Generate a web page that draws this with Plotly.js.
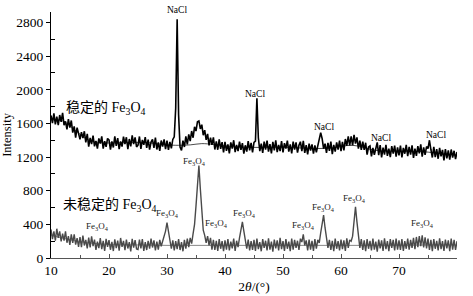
<!DOCTYPE html>
<html>
<head>
<meta charset="utf-8">
<script src="https://cdn.plot.ly/plotly-3.0.1.min.js"></script>
<style>html,body{margin:0;padding:0;background:#fff}#chart{width:473px;height:296px}</style>
</head>
<body>
<div id="chart"></div>
<script>
// XRD scan: 2θ from 10° to 80°, step 0.25°
const scanStart = 10;
const scanStep = 0.25;

// 稳定的 Fe3O4 (stable), intensity
const stableIntensity = [
  1695,1605,1720,1590,1680,1580,1700,1620,1725,1580,1625,1530,1650,1550,1635,1490,1565,1430,1550,1470,
  1410,1497,1425,1507,1375,1477,1325,1427,1355,1456,1327,1393,1300,1422,1360,1447,1300,1389,1322,1421,
  1405,1290,1387,1314,1446,1333,1425,1295,1385,1325,1442,1354,1436,1293,1415,1327,1459,1355,1435,1320,
  1343,1445,1297,1404,1346,1438,1310,1407,1290,1378,1411,1309,1432,1290,1374,1273,1397,1326,1410,1295,
  1395,1285,1380,1303,1410,1440,1780,2840,1700,1320,1280,1395,1320,1445,1350,1470,1390,1510,1430,1560,
  1510,1620,1630,1535,1585,1460,1520,1405,1475,1340,1430,1345,1435,1290,1388,1287,1411,1297,1378,1255,
  1380,1275,1350,1245,1375,1300,1400,1260,1345,1270,1385,1285,1365,1240,1340,1265,1390,1280,1370,1255,
  1375,1390,1900,1430,1270,1360,1250,1385,1290,1395,1265,1355,1245,1380,1280,1400,1260,1345,1270,1390,
  1255,1365,1300,1395,1265,1352,1244,1385,1290,1374,1252,1340,1383,1270,1392,1250,1343,1231,1360,1278,
  1350,1240,1340,1255,1330,1380,1490,1420,1300,1360,1250,1370,1275,1385,1235,1345,1265,1375,1290,1395,
  1270,1380,1280,1415,1335,1445,1340,1447,1338,1465,1360,1435,1300,1395,1285,1385,1285,1370,1230,1320,
  1333,1208,1308,1228,1323,1375,1222,1342,1197,1312,1230,1345,1215,1300,1200,1330,1240,1335,1205,1315,
  1220,1335,1195,1310,1240,1345,1210,1320,1230,1340,1190,1300,1215,1330,1245,1350,1205,1315,1225,1325,
  1300,1400,1290,1195,1320,1200,1295,1180,1310,1210,1285,1160,1295,1185,1280,1170,1290,1195,1275,1175,1260
];

// 未稳定的 Fe3O4 (unstable), intensity
const unstableIntensity = [
  340,225,318,206,348,240,316,197,291,206,316,181,260,155,280,180,280,160,236,132,
  248,130,267,149,216,114,242,125,258,141,219,97,195,118,236,105,204,83,227,131,
  213,98,193,83,223,118,208,88,238,133,203,93,218,113,188,78,228,123,213,108,
  100,220,115,225,85,190,95,205,110,230,125,210,90,195,100,215,140,200,230,320,
  420,310,195,110,210,90,200,105,225,95,190,80,215,110,230,130,240,170,290,400,
  620,930,1100,820,500,330,270,180,260,150,240,100,215,95,205,85,225,110,200,80,
  210,100,225,90,195,115,230,85,205,130,240,330,430,320,210,110,220,90,200,95,
  215,85,230,105,190,80,225,120,205,90,235,100,195,75,220,115,210,90,240,105,
  200,85,225,110,195,80,230,100,215,120,205,95,230,190,280,150,210,90,220,100,
  205,85,225,110,215,180,300,420,510,360,230,120,215,95,205,80,230,110,200,90,
  220,105,210,85,235,120,215,200,260,400,610,430,250,120,225,95,210,80,225,110,
  205,90,230,100,195,75,220,115,210,85,235,105,200,80,225,120,215,90,230,100,
  210,95,225,85,200,110,230,100,215,120,240,105,250,130,260,140,270,125,245,115,
  230,95,215,80,225,110,205,90,235,105,200,85,220,115,210,80,230,100,215,95,200
];

// fitted background lines
const stableBgTheta = [10,12,14,16,18,22,26,30,32,34,36,38,42,46,50,54,58,62,66,70,74,78,80];
const stableBg      = [1645,1630,1530,1420,1375,1370,1375,1345,1340,1345,1360,1350,1320,1315,1318,1305,1305,1340,1280,1270,1265,1235,1225];
const unstableBgTheta = [10,15,20,25,30,35,40,45,50,55,60,65,70,75,80];
const unstableBg      = [270,195,160,155,150,150,150,150,150,150,150,150,150,155,155];

// peak labels
const naclTheta = [31.8, 45.2, 57.1, 66.9, 76.4];
const naclLabelY = [2945, 1950, 1556, 1425, 1461];
const feTheta  = [18.1, 30.0, 34.8, 38.5, 43.3, 53.5, 56.9, 62.4, 74.0];
const feLabelY = [380, 534, 1152, 416, 534, 392, 606, 713, 416];
const sampleNames = ['稳定的 Fe<sub>3</sub>O<sub>4</sub>', '未稳定的 Fe<sub>3</sub>O<sub>4</sub>'];
const sampleTheta = [19.5, 20.2];
const sampleLabelY = [1781, 629];

const xTicks = [10, 20, 30, 40, 50, 60, 70];
const xMinorTicks = [15, 25, 35, 45, 55, 65, 75];
const yTicks = [0, 400, 800, 1200, 1600, 2000, 2400, 2800];
const yMinorTicks = [200, 600, 1000, 1400, 1800, 2200, 2600];
const yMax = 2925;

const thetaOf = arr => arr.map((_, i) => scanStart + i * scanStep);

const serif = "'Liberation Serif', 'Times New Roman', 'Noto Sans CJK SC', serif";

const traces = [
  {x: stableBgTheta, y: stableBg, type: 'scatter', mode: 'lines', line: {color: '#000', width: 0.7, shape: 'spline'}, hoverinfo: 'skip'},
  {x: unstableBgTheta, y: unstableBg, type: 'scatter', mode: 'lines', line: {color: '#555', width: 0.7, shape: 'spline'}, hoverinfo: 'skip'},
  {x: thetaOf(stableIntensity), y: stableIntensity, type: 'scatter', mode: 'lines', name: '稳定的 Fe3O4', line: {color: '#000', width: 1.6}},
  {x: thetaOf(unstableIntensity), y: unstableIntensity, type: 'scatter', mode: 'lines', name: '未稳定的 Fe3O4', line: {color: '#4a4a4a', width: 1.4}}
];

// a data-y label above the axis top is placed in paper units so it is not hidden
const placeY = v => v > yMax ? {y: v / yMax, yref: 'paper'} : {y: v, yref: 'y'};

const annotations = [];
naclTheta.forEach((t, i) => annotations.push(Object.assign({x: t, xref: 'x', text: 'NaCl', showarrow: false, xanchor: 'center', yanchor: 'middle', font: {family: serif, size: 9.5, color: '#000'}}, placeY(naclLabelY[i]))));
feTheta.forEach((t, i) => annotations.push({x: t, y: feLabelY[i], text: 'Fe<sub>3</sub>O<sub>4</sub>', showarrow: false, xanchor: 'center', yanchor: 'middle', font: {family: serif, size: 9, color: '#222'}}));
sampleNames.forEach((s, i) => annotations.push({x: sampleTheta[i], y: sampleLabelY[i], text: s, showarrow: false, xanchor: 'center', yanchor: 'middle', font: {family: serif, size: 14, color: '#000'}}));

const layout = {
  width: 473, height: 296,
  margin: {l: 51, r: 16, t: 12, b: 38},
  paper_bgcolor: '#fff', plot_bgcolor: '#fff',
  showlegend: false,
  font: {family: serif, size: 13, color: '#000'},
  xaxis: {
    range: [10, 80], showgrid: false, zeroline: false,
    showline: true, linecolor: '#555', linewidth: 1.2,
    tickmode: 'array', tickvals: xTicks, ticktext: xTicks.map(String),
    ticks: 'inside', ticklen: 4, tickcolor: '#555',
    minor: {tickmode: 'array', tickvals: xMinorTicks, ticks: 'inside', ticklen: 3, tickcolor: '#555'},
    tickfont: {family: serif, size: 13.5, color: '#000'},
    title: {text: '2<i>θ</i>/(°)', font: {family: serif, size: 13.5, color: '#000'}, standoff: 4}
  },
  yaxis: {
    range: [0, yMax], showgrid: false, zeroline: false,
    showline: true, linecolor: '#000', linewidth: 1,
    tickmode: 'array', tickvals: yTicks, ticktext: yTicks.map(String),
    ticks: 'outside', ticklen: 4, tickcolor: '#000',
    minor: {tickmode: 'array', tickvals: yMinorTicks, ticks: 'inside', ticklen: 4, tickcolor: '#000'},
    tickfont: {family: serif, size: 13.5, color: '#000'},
    title: {text: 'Intensity', font: {family: serif, size: 12.5, color: '#000'}, standoff: 2}
  },
  annotations: annotations
};

Plotly.newPlot('chart', traces, layout, {staticPlot: true, displayModeBar: false});
</script>
</body>
</html>
